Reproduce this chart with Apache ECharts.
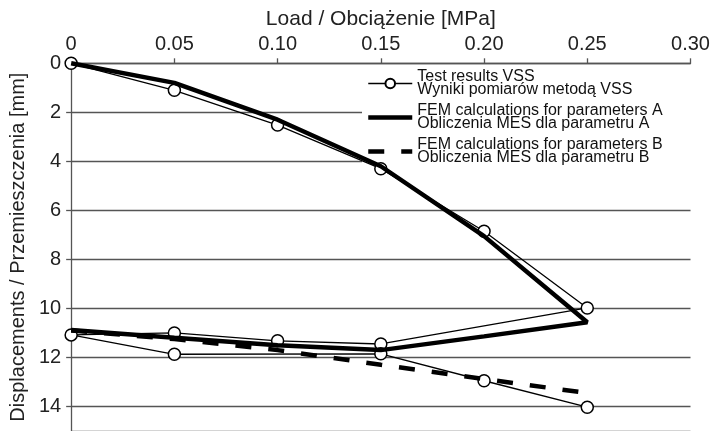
<!DOCTYPE html>
<html>
<head>
<meta charset="utf-8">
<script src="https://cdn.jsdelivr.net/npm/echarts@6/dist/echarts.min.js"></script>
<style>
  html, body { margin: 0; padding: 0; background: #fff; }
  #container { width: 719px; height: 431px; }
</style>
</head>
<body>
<div id="container"></div>
<script>
// x ticks (top axis)
var xTickLabels = ['0', '0.05', '0.10', '0.15', '0.20', '0.25', '0.30'];

// test results VSS: loading, unloading, reloading
var loadVSS = [0, 0.05, 0.10, 0.15, 0.20, 0.25, 0.15, 0.10, 0.05, 0, 0.05, 0.15, 0.20, 0.25];
var dispVSS = [0, 1.1, 2.52, 4.3, 6.85, 9.98, 11.45, 11.32, 11.0, 11.08, 11.87, 11.85, 12.95, 14.03];

// FEM parameters A
var loadA = [0, 0.05, 0.10, 0.15, 0.20, 0.25, 0.20, 0.15, 0.10, 0.05, 0];
var dispA = [0, 0.8, 2.3, 4.2, 7.05, 10.56, 11.14, 11.7, 11.5, 11.2, 10.88];

// FEM parameters B
var loadB = [0, 0.05, 0.10, 0.15, 0.20, 0.25];
var dispB = [10.9, 11.25, 11.7, 12.3, 12.88, 13.45];

var nameVSS = 'Test results VSS\nWyniki pomiarów metodą VSS';
var nameA = 'FEM calculations for parameters A\nObliczenia MES dla parametru A';
var nameB = 'FEM calculations for parameters B\nObliczenia MES dla parametru B';

function pairs(xs, ys) {
    var out = [];
    for (var i = 0; i < xs.length; i++) out.push([xs[i], ys[i]]);
    return out;
}

function showCharts(dom) {
    var myChart = echarts.init(dom);
    var font = 'Liberation Sans, Arial, sans-serif';
    var noSymbol = { color: 'rgba(0,0,0,0)', borderWidth: 0, opacity: 0 };
    var option = {
        animation: false,
        backgroundColor: '#fff',
        textStyle: { fontFamily: font },
        grid: { left: 70, right: 28.5, top: 63.3, bottom: -3 },
        legend: {
            orient: 'vertical',
            left: 362,
            top: 65,
            z: 4,
            padding: [4, 40, 2, 4],
            backgroundColor: '#fff',
            itemWidth: 44,
            itemHeight: 12,
            itemGap: 5,
            textStyle: { fontFamily: font, fontSize: 16, lineHeight: 13, color: '#111' },
            data: [
                { name: nameVSS, lineStyle: { width: 1.3, color: '#000' } },
                { name: nameA, itemStyle: noSymbol, lineStyle: { width: 4.5, color: '#000' } },
                { name: nameB, itemStyle: noSymbol, lineStyle: { width: 4.5, color: '#000', type: [16, 17] } }
            ]
        },
        xAxis: {
            type: 'value',
            position: 'top',
            min: 0,
            max: 0.30,
            interval: 0.05,
            name: 'Load / Obciążenie [MPa]',
            nameLocation: 'middle',
            nameGap: 30,
            nameTextStyle: { fontSize: 21, color: '#222', fontFamily: font },
            axisLine: { show: true, lineStyle: { color: '#555', width: 1.3 } },
            axisTick: { show: true, length: 5, lineStyle: { color: '#555', width: 1.3 } },
            axisLabel: {
                fontSize: 20, color: '#222', margin: 9,
                formatter: function (v) { return xTickLabels[Math.round(v / 0.05)]; }
            },
            splitLine: { show: false }
        },
        yAxis: {
            type: 'value',
            inverse: true,
            min: 0,
            max: 15,
            interval: 2,
            name: 'Displacements / Przemieszczenia [mm]',
            nameLocation: 'middle',
            nameGap: 40,
            nameTextStyle: { fontSize: 20, color: '#222', fontFamily: font },
            axisLine: { show: true, lineStyle: { color: '#555', width: 1.3 } },
            axisTick: { show: true, length: 5, lineStyle: { color: '#555', width: 1.3 } },
            axisLabel: {
                fontSize: 20, color: '#222', margin: 10, showMaxLabel: false,
                formatter: function (v) { return v % 2 === 0 ? String(v) : ''; }
            },
            splitLine: { show: true, lineStyle: { color: '#555', width: 1.3 } }
        },
        series: [
            {
                name: nameVSS,
                type: 'line',
                data: pairs(loadVSS, dispVSS),
                symbol: 'circle',
                symbolSize: 12,
                itemStyle: { color: '#fff', borderColor: '#000', borderWidth: 1.5 },
                lineStyle: { color: '#000', width: 1.3 },
                z: 5
            },
            {
                name: nameA,
                type: 'line',
                data: pairs(loadA, dispA),
                symbol: 'none',
                itemStyle: { color: '#000' },
                lineStyle: { color: '#000', width: 4.5 },
                z: 6
            },
            {
                name: nameB,
                type: 'line',
                data: pairs(loadB, dispB),
                symbol: 'none',
                itemStyle: { color: '#000' },
                lineStyle: { color: '#000', width: 4.5, type: [16, 17] },
                z: 6
            }
        ]
    };
    myChart.setOption(option, true);
    return myChart;
}

showCharts(document.getElementById('container'));
</script>
</body>
</html>
